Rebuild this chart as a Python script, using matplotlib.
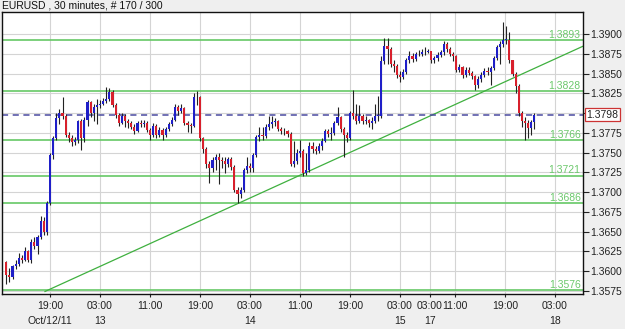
import numpy as np
import matplotlib
matplotlib.use("Agg")
import matplotlib.pyplot as plt
import matplotlib.transforms as mtransforms

plt.rcParams['font.family'] = ['Liberation Sans', 'DejaVu Sans']

# EURUSD 30 min candles
first_open = 1.3611
closes = [
    1.3595, 1.3592, 1.3606, 1.3609, 1.3617, 1.3614, 1.3625, 1.3614, 1.3637, 1.3632,
    1.3643, 1.3663, 1.3649, 1.3686, 1.3747, 1.3768, 1.3794, 1.3800, 1.3797, 1.3773,
    1.3768, 1.3764, 1.3766, 1.3790, 1.3768, 1.3792, 1.3814, 1.3800, 1.3808, 1.3810,
    1.3812, 1.3815, 1.3818, 1.3827, 1.3811, 1.3798, 1.3788, 1.3797, 1.3790, 1.3788,
    1.3783, 1.3778, 1.3787, 1.3786, 1.3788, 1.3779, 1.3772, 1.3784, 1.3772, 1.3779,
    1.3772, 1.3780, 1.3786, 1.3792, 1.3808, 1.3803, 1.3806, 1.3788, 1.3785, 1.3784,
    1.3821, 1.3820, 1.3768, 1.3755, 1.3736, 1.3730, 1.3741, 1.3744, 1.3741, 1.3739,
    1.3735, 1.3742, 1.3732, 1.3703, 1.3697, 1.3703, 1.3728, 1.3733, 1.3730, 1.3747,
    1.3770, 1.3773, 1.3771, 1.3782, 1.3786, 1.3789, 1.3790, 1.3780, 1.3778, 1.3777,
    1.3774, 1.3736, 1.3740, 1.3750, 1.3752, 1.3724, 1.3728, 1.3759, 1.3754, 1.3752,
    1.3758, 1.3765, 1.3777, 1.3774, 1.3775, 1.3787, 1.3795, 1.3780, 1.3773, 1.3768,
    1.3800, 1.3797, 1.3790, 1.3796, 1.3790, 1.3791, 1.3787, 1.3790, 1.3797, 1.3797,
    1.3866, 1.3885, 1.3881, 1.3862, 1.3860, 1.3849, 1.3846, 1.3852, 1.3867, 1.3872,
    1.3869, 1.3875, 1.3875, 1.3877, 1.3878, 1.3879, 1.3867, 1.3870, 1.3874, 1.3877,
    1.3888, 1.3882, 1.3875, 1.3872, 1.3855, 1.3858, 1.3849, 1.3855, 1.3851, 1.3847,
    1.3836, 1.3844, 1.3849, 1.3854, 1.3852, 1.3857, 1.3870, 1.3884, 1.3888, 1.3893,
    1.3893, 1.3867, 1.3850, 1.3835, 1.3800, 1.3790, 1.3788, 1.3781, 1.3789, 1.3798,
]
highs = [
    1.3613, 1.3604, 1.3608, 1.3614, 1.3623, 1.3620, 1.3630, 1.3627, 1.3640, 1.3643,
    1.3646, 1.3670, 1.3668, 1.3689, 1.3750, 1.3771, 1.3800, 1.3805, 1.3820, 1.3799,
    1.3776, 1.3772, 1.3770, 1.3792, 1.3793, 1.3795, 1.3817, 1.3816, 1.3812, 1.3818,
    1.3817, 1.3819, 1.3833, 1.3832, 1.3829, 1.3813, 1.3800, 1.3800, 1.3799, 1.3793,
    1.3790, 1.3786, 1.3790, 1.3791, 1.3792, 1.3790, 1.3781, 1.3787, 1.3786, 1.3782,
    1.3781, 1.3783, 1.3789, 1.3795, 1.3812, 1.3810, 1.3812, 1.3808, 1.3790, 1.3788,
    1.3826, 1.3828, 1.3822, 1.3770, 1.3757, 1.3740, 1.3745, 1.3748, 1.3750, 1.3744,
    1.3745, 1.3745, 1.3744, 1.3734, 1.3706, 1.3706, 1.3731, 1.3745, 1.3737, 1.3750,
    1.3773, 1.3782, 1.3782, 1.3786, 1.3797, 1.3797, 1.3794, 1.3792, 1.3782, 1.3781,
    1.3779, 1.3776, 1.3765, 1.3754, 1.3766, 1.3755, 1.3750, 1.3763, 1.3763, 1.3758,
    1.3762, 1.3768, 1.3780, 1.3780, 1.3782, 1.3790, 1.3808, 1.3797, 1.3782, 1.3776,
    1.3803, 1.3829, 1.3812, 1.3810, 1.3799, 1.3796, 1.3793, 1.3795, 1.3812, 1.3822,
    1.3872, 1.3895, 1.3895, 1.3884, 1.3868, 1.3862, 1.3853, 1.3856, 1.3870, 1.3879,
    1.3876, 1.3878, 1.3880, 1.3881, 1.3884, 1.3882, 1.3870, 1.3873, 1.3877, 1.3880,
    1.3891, 1.3890, 1.3884, 1.3878, 1.3874, 1.3862, 1.3860, 1.3858, 1.3858, 1.3853,
    1.3849, 1.3847, 1.3852, 1.3857, 1.3858, 1.3860, 1.3873, 1.3887, 1.3892, 1.3915,
    1.3911, 1.3903, 1.3868, 1.3852, 1.3837, 1.3803, 1.3795, 1.3792, 1.3792, 1.3800,
]
lows = [
    1.3583, 1.3586, 1.3590, 1.3603, 1.3606, 1.3610, 1.3612, 1.3611, 1.3610, 1.3628,
    1.3622, 1.3640, 1.3645, 1.3646, 1.3684, 1.3742, 1.3766, 1.3786, 1.3793, 1.3770,
    1.3763, 1.3758, 1.3760, 1.3762, 1.3753, 1.3763, 1.3784, 1.3795, 1.3790, 1.3786,
    1.3806, 1.3810, 1.3813, 1.3815, 1.3808, 1.3794, 1.3784, 1.3786, 1.3782, 1.3781,
    1.3780, 1.3774, 1.3776, 1.3782, 1.3783, 1.3776, 1.3766, 1.3770, 1.3768, 1.3770,
    1.3766, 1.3770, 1.3778, 1.3784, 1.3790, 1.3798, 1.3800, 1.3785, 1.3776, 1.3775,
    1.3782, 1.3810, 1.3765, 1.3750, 1.3730, 1.3712, 1.3726, 1.3728, 1.3710, 1.3730,
    1.3724, 1.3732, 1.3728, 1.3700, 1.3686, 1.3693, 1.3700, 1.3724, 1.3726, 1.3726,
    1.3744, 1.3765, 1.3766, 1.3769, 1.3779, 1.3781, 1.3784, 1.3777, 1.3774, 1.3773,
    1.3770, 1.3733, 1.3732, 1.3735, 1.3744, 1.3720, 1.3722, 1.3726, 1.3750, 1.3748,
    1.3750, 1.3753, 1.3763, 1.3770, 1.3766, 1.3772, 1.3785, 1.3776, 1.3744, 1.3764,
    1.3766, 1.3793, 1.3786, 1.3788, 1.3786, 1.3786, 1.3782, 1.3780, 1.3788, 1.3790,
    1.3794, 1.3862, 1.3862, 1.3858, 1.3852, 1.3845, 1.3840, 1.3843, 1.3850, 1.3864,
    1.3865, 1.3866, 1.3872, 1.3872, 1.3874, 1.3876, 1.3864, 1.3864, 1.3866, 1.3871,
    1.3874, 1.3878, 1.3872, 1.3866, 1.3852, 1.3852, 1.3845, 1.3846, 1.3848, 1.3843,
    1.3830, 1.3832, 1.3840, 1.3846, 1.3848, 1.3836, 1.3855, 1.3868, 1.3862, 1.3884,
    1.3888, 1.3864, 1.3847, 1.3826, 1.3796, 1.3782, 1.3766, 1.3768, 1.3772, 1.3780,
]
opens = [first_open] + closes[:-1]

# support / resistance levels and trend line anchors
levels = [1.3893, 1.3828, 1.3766, 1.3721, 1.3686, 1.3576]
trend_x = [12.4, 184.6]
trend_y = [1.3574, 1.3885]
last_price = 1.3798

yticks = [1.3575, 1.3600, 1.3625, 1.3650, 1.3675, 1.3700, 1.3725, 1.3750,
          1.3775, 1.3800, 1.3825, 1.3850, 1.3875, 1.3900]
xtick_pos = [14, 30, 46, 62, 78, 94, 110, 126, 135.6, 143.6, 159.6, 175.6]
xtick_labels = ["19:00\nOct/12/11", "03:00\n13", "11:00", "19:00", "03:00\n14",
                "11:00", "19:00", "03:00\n15", "03:00\n17", "11:00", "19:00",
                "03:00\n18"]

fig = plt.figure(figsize=(6.25, 3.29), dpi=100, facecolor="#efefef")
ax = fig.add_axes([0.0032, 0.1064, 0.9296, 0.8571])
ax.set_facecolor("white")

idx = np.arange(len(closes))
o = np.array(opens)
c = np.array(closes)
h = np.array(highs)
l = np.array(lows)

ax.vlines(idx, l, h, color="#222222", lw=0.8, zorder=3)
up = c >= o
body = np.maximum(np.abs(c - o), 0.00005)
cols = np.where(up, "#1f1fc8", "#d8202c")
ax.bar(idx, body, bottom=np.minimum(o, c), width=0.7, color=cols,
       edgecolor="none", zorder=4)

# levels
trans = mtransforms.blended_transform_factory(ax.transAxes, ax.transData)
for lv in levels:
    ax.axhline(lv, color="#66c866", lw=1.2, zorder=2)
    ax.text(0.996, lv + 0.00003, f"{lv:.4f}", transform=trans, ha="right",
            va="bottom", fontsize=7.5, color="#6cc86c", zorder=5)
ax.plot(trend_x, trend_y, color="#3fb03f", lw=0.9, zorder=2)
ax.axhline(last_price, color="#4a4aa0", lw=1.1, ls=(0, (4, 3)), zorder=2)
ax.text(1.006, last_price, f"{last_price:.4f}", transform=trans, ha="left",
        va="center", fontsize=7.5, color="#222222", zorder=6, clip_on=False,
        bbox=dict(facecolor="white", edgecolor="#cc3333", pad=1.2, lw=0.9))

ax.set_xlim(-1.36, 184.56)
ax.set_ylim(1.35708, 1.39283)
ax.set_xticks(xtick_pos)
ax.set_xticklabels(xtick_labels, fontsize=7.5, color="#222222", linespacing=1.6)
ax.set_yticks(yticks)
ax.set_yticklabels(["" if abs(t - 1.38) < 1e-6 else f"{t:.4f}" for t in yticks],
                   fontsize=7.5, color="#222222")
ax.yaxis.tick_right()
ax.tick_params(axis="y", length=4, width=0.8, pad=1, colors="#222222")
ax.tick_params(axis="x", length=2, width=0.8, pad=3, colors="#222222")
ax.grid(True, color="#d4d4d4", lw=0.8, zorder=0)
ax.set_axisbelow(True)
for sp in ax.spines.values():
    sp.set_color("#111111")
    sp.set_linewidth(1)

fig.text(0.003, 0.982, "EURUSD , 30 minutes, # 170 / 300", fontsize=7.5,
         va="center", ha="left", color="#111111")

fig.savefig("out.png", dpi=100, facecolor=fig.get_facecolor())
